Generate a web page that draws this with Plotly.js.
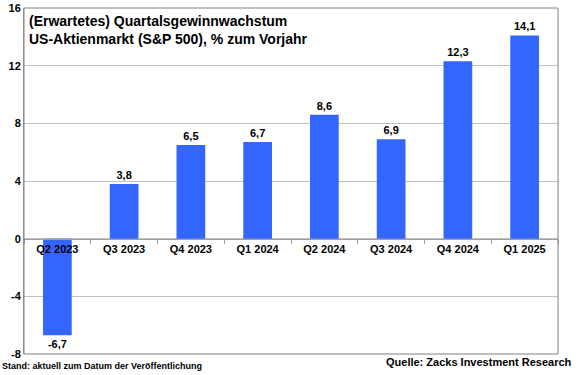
<!DOCTYPE html>
<html>
<head>
<meta charset="utf-8">
<script src="https://cdn.plot.ly/plotly-3.0.1.min.js"></script>
<style>html,body{margin:0;padding:0;background:#fff;}#chart{width:580px;height:375px;}</style>
</head>
<body>
<div id="chart"></div>
<script>
const categories = ["Q2 2023","Q3 2023","Q4 2023","Q1 2024","Q2 2024","Q3 2024","Q4 2024","Q1 2025"];
const growth = [-6.7, 3.8, 6.5, 6.7, 8.6, 6.9, 12.3, 14.1];
const yTicks = [-8, -4, 0, 4, 8, 12, 16];
const titleText = "(Erwartetes) Quartalsgewinnwachstum<br>US-Aktienmarkt (S&P 500), % zum Vorjahr";
const noteLeft = "Stand: aktuell zum Datum der Veröffentlichung";
const noteRight = "Quelle: Zacks Investment Research";

const font = "Liberation Sans, Arial, sans-serif";
const yMin = -8, yMax = 16;

const trace = {
  type: "bar",
  x: categories,
  y: growth,
  marker: {color: "#3366FF"},
  width: 0.43,
  text: growth.map(v => v.toFixed(1).replace(".", ",")),
  textposition: "outside",
  textfont: {family: font, size: 11, color: "#000", weight: "bold"},
  cliponaxis: false,
  hoverinfo: "none"
};

const layout = {
  width: 580, height: 375,
  margin: {l: 24, r: 22, t: 8, b: 21},
  paper_bgcolor: "#fff", plot_bgcolor: "#fff",
  showlegend: false,
  font: {family: font, color: "#000"},
  xaxis: {
    type: "category",
    anchor: "free",
    position: (0 - yMin) / (yMax - yMin),
    showline: true, linecolor: "#a0a0a0", linewidth: 1,
    ticks: "outside", tickson: "boundaries", ticklen: 4, tickcolor: "#a0a0a0",
    tickfont: {family: font, size: 11, color: "#000", weight: "bold"},
    showgrid: false, zeroline: false, fixedrange: true
  },
  yaxis: {
    range: [yMin, yMax],
    tickvals: yTicks,
    ticktext: yTicks.map(String),
    showgrid: true, gridcolor: "#c0c0c0", gridwidth: 1,
    zeroline: false,
    showline: true, linecolor: "#a0a0a0", linewidth: 1,
    ticks: "", ticklen: 0,
    tickfont: {family: font, size: 11, color: "#000", weight: "bold"},
    fixedrange: true
  },
  shapes: [
    {type: "rect", xref: "paper", yref: "paper", x0: 0, x1: 1, y0: 0, y1: 1,
     line: {color: "#808080", width: 1}, fillcolor: "rgba(0,0,0,0)"}
  ],
  annotations: [
    {text: titleText, xref: "paper", yref: "paper", x: 0.005, y: 0.99,
     xanchor: "left", yanchor: "top", align: "left", showarrow: false,
     font: {family: font, size: 14, color: "#000", weight: "bold"}},
    {text: noteLeft, xref: "paper", yref: "paper", x: -0.045, y: -0.036,
     xanchor: "left", yanchor: "middle", showarrow: false,
     font: {family: font, size: 9, color: "#000", weight: "bold"}},
    {text: noteRight, xref: "paper", yref: "paper", x: 1.03, y: -0.022,
     xanchor: "right", yanchor: "middle", showarrow: false,
     font: {family: font, size: 11, color: "#000", weight: "bold"}}
  ]
};

Plotly.newPlot("chart", [trace], layout, {displayModeBar: false, staticPlot: true});
</script>
</body>
</html>
